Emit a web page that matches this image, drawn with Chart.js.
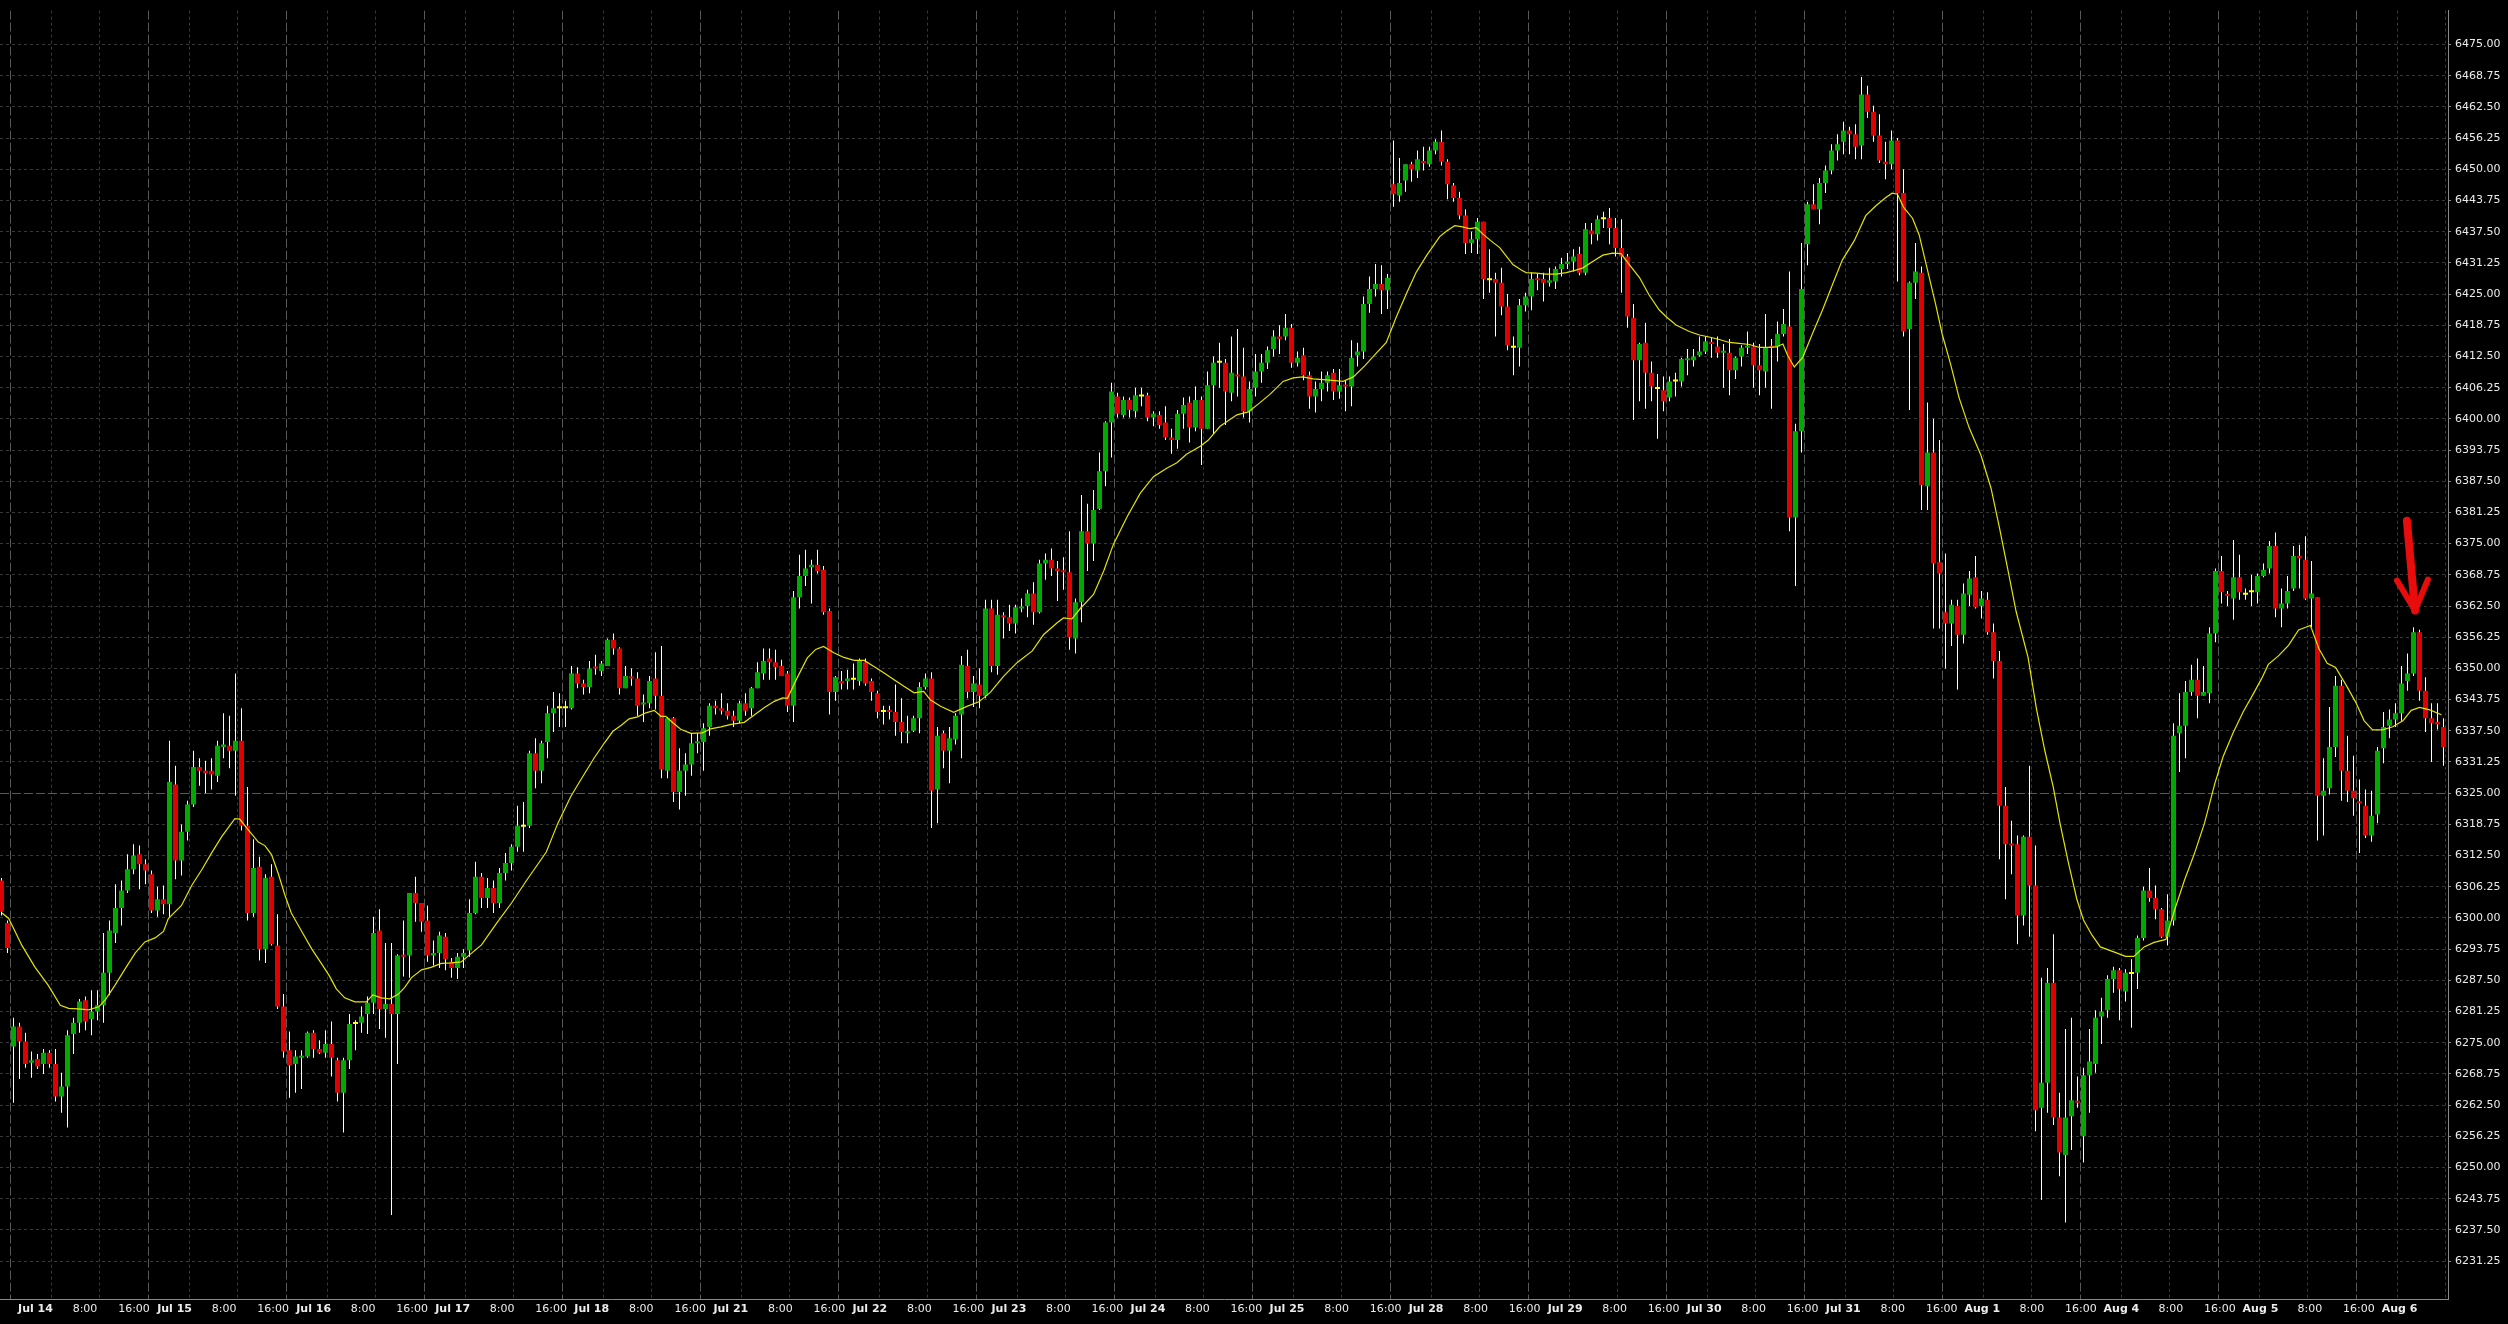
<!DOCTYPE html>
<html>
<head>
<meta charset="utf-8">
<script src="https://cdn.jsdelivr.net/npm/chart.js@4.4.1/dist/chart.umd.min.js"></script>
<style>
html,body{margin:0;padding:0;background:#000;overflow:hidden}
canvas{display:block}
</style>
</head>
<body>
<canvas id="c" width="2508" height="1324"></canvas>
<script>
// ---------- DATA (hourly bars; index 0 = last bar of Jul 11, then 23 bars per session) ----------
const dayNames = ['Jul 14','Jul 15','Jul 16','Jul 17','Jul 18','Jul 21','Jul 22','Jul 23','Jul 24','Jul 25',
                  'Jul 28','Jul 29','Jul 30','Jul 31','Aug 1','Aug 4','Aug 5','Aug 6'];
const hourNames = ['8:00','16:00'];

const opens = [
6307.5, 6299,
6274.25,6278.25,6275.25,6271,6271.75,6270.75,6273,6270.75,6264.25,6266.25,6276.75,6279,6283.5,6279.75,6281.25,6282.5,6289,6297,6302,6305.5,6309.75,6312.75,6310.75,
6308.75,6301.5,6303.75,6302.75,6326.75,6311.5,6317.25,6322.75,6330.25,6329.5,6329.5,6328.5,6334.25,6334.5,6333.5,6335.5,6318.5,6301,6310.25,6293.75,6308.25,6294.5,6282.25,
6273.5,6270.75,6272,6272.25,6277,6273.75,6273,6274.75,6271.5,6265,6271.5,6278.75,6279,6280.75,6283,6297.5,6281.75,6282.75,6280.75,6292.5,6292.5,6305,6303,
6299.5,6292.5,6293,6296.25,6291.25,6290,6292.25,6293.5,6301,6308.25,6304,6306,6303,6309,6311,6314.25,6318.25,6318.5,6333,6329.5,6335.25,6341,6342,
6342,6342,6349,6347,6346.25,6350.25,6349.5,6350.5,6355.75,6354,6346,6348.25,6348,6342.75,6343,6348,6344.5,6329.5,6340,6325.25,6329.5,6330.75,6335,
6335.25,6338.25,6342.5,6342,6341.5,6340.5,6339.5,6343,6342,6346,6349,6352,6351.25,6350.5,6349,6342.5,6364.25,6368.5,6370.25,6370.75,6369.75,6361.5,6345.25,
6347.5,6347.5,6347.75,6347.5,6351.25,6347.5,6345,6341.25,6341.5,6341.25,6339.25,6337,6337.5,6340,6346.25,6348,6325.75,6337,6333.5,6335.75,6340.75,6350.5,6345.25,
6346.75,6344.5,6362,6350.5,6360.5,6360.25,6359,6362,6362.5,6365,6361.25,6371,6371.75,6370,6369.5,6369.25,6356,6363.25,6377.5,6375,6382,6389.5,6399.25,
6404.5,6400.75,6403.75,6401.5,6404.5,6404.75,6400.25,6400.75,6399.25,6396.25,6395.75,6401,6403.25,6398.25,6403.75,6398,6406.75,6411.25,6411.25,6405.25,6408.75,6408.5,6401.5,
6406.25,6409.5,6411.25,6414,6416.5,6416.5,6418.25,6411.25,6412.75,6408.75,6404.5,6406,6407.25,6409.25,6405.5,6406.75,6406.5,6412.75,6413.5,6423,6426,6427,6425.75,
6447,6444.75,6447.75,6451,6449.75,6451.5,6451,6453.75,6455.5,6451.5,6446.75,6444.25,6440.75,6435.25,6436,6439.5,6427.75,6428,6427.25,6422.5,6414.25,6414.25,6422.75,
6424.5,6428,6428,6427.25,6427.5,6430,6431,6431.5,6433,6429.25,6437.75,6437,6440,6440.25,6438.25,6434.25,6432.5,6420.25,6411.75,6415.25,6409.25,6406,6405.75,
6404.25,6407.5,6407.5,6411.75,6411.75,6412.75,6413.5,6415.25,6414.5,6413.25,6413.25,6409.75,6412.5,6414.25,6414.5,6410.75,6409.5,6414.5,6414.5,6417,6418.5,6380.25,6397.5,
6435,6443,6442,6447.25,6449.75,6453.75,6455.5,6457.75,6457,6454.75,6465,6461.5,6456.75,6451.5,6451,6455.75,6445.25,6418,6427.25,6429.25,6386.5,6393.25,6371.25,
6361.25,6359,6362.5,6356.75,6364.75,6368.25,6362.5,6363.75,6357.25,6351.5,6322.5,6314.75,6314.75,6300.5,6316.25,6306.5,6262,6267,6287,6260,6252.5,6260.25,6263.25,
6256.25,6268.5,6270.75,6280.25,6281.5,6287.75,6289.5,6285.25,6288.75,6289,6296,6305.5,6304,6301.75,6296.25,6299.5,6337,6338.5,6345.25,6347.75,6344.5,6345,6357,
6369.5,6364.75,6364,6368.25,6364.75,6365.25,6365.25,6368.5,6370,6374.5,6362,6363,6366,6372.5,6371.75,6364,6364.25,6324.5,6326,6334.25,6346.5,6329.5,6325.5,
6323.25,6322.5,6316.5,6320.75,6334,6338.5,6339.75,6341,6347.5,6349,6357.25,6345.5,6340,6339.25,6338.25
];
const highs = [
6308, 6299.5,
6280,6279,6277,6273.25,6272.75,6273.75,6273.5,6273.75,6269,6277.5,6280,6283.75,6284.25,6285.5,6285.5,6297,6299.5,6306.75,6307.5,6312.75,6314.75,6314.5,6311.75,
6309.5,6306.25,6306.5,6335.5,6330.5,6318.75,6323.5,6333.5,6332,6331.5,6332,6335.5,6341,6340.5,6349,6342,6326.25,6315.75,6312.25,6308.75,6310.75,6300.75,6284.75,
6277.25,6273.5,6273.5,6277.25,6277.5,6275.5,6277.5,6279.25,6272,6272,6280.75,6279.5,6282.25,6284.25,6300.25,6301.75,6295,6295,6292.75,6299.5,6305,6308.25,6303,
6302.5,6295.5,6297.25,6297,6292,6293,6293.75,6303.75,6311.25,6309,6308,6307.5,6310,6313,6314.75,6322.5,6323.25,6333.5,6336,6335.5,6342.5,6345.25,6345,
6343.5,6350.5,6350.25,6347.75,6351.5,6352.75,6351.5,6356,6357,6354.25,6350.5,6350,6349.25,6344.75,6348.5,6353.25,6354.5,6340.25,6340.25,6334,6333,6337,6337,
6339,6343,6343.5,6345,6343,6341.5,6343.5,6345,6346.25,6351.25,6354,6354,6353.75,6351.75,6349.5,6365.5,6372.75,6373.75,6371.75,6373.75,6370.5,6362,6348.5,
6349.5,6349.75,6351,6352,6352,6348,6345.5,6342.5,6342.5,6346.75,6344,6340.5,6340.5,6347.25,6349,6349.25,6338.25,6337.5,6338.25,6341,6352.5,6353.75,6348.5,
6350,6363.75,6363.75,6363.75,6361.25,6362.75,6362.75,6364,6365.75,6367.25,6371.75,6373,6374,6371.5,6372.25,6377.5,6364,6384.75,6383,6385.75,6393.25,6399.5,6407.25,
6405.25,6404.5,6404.25,6406.25,6406.25,6405.25,6401.5,6401.5,6402.5,6398,6401.75,6404.25,6404.5,6406.5,6404.5,6409.5,6412.5,6415.25,6412,6416.5,6418,6414.25,6407.5,
6413,6413,6414.5,6417.75,6418.75,6421,6419,6413.5,6414.25,6409.5,6407.5,6409.5,6409.5,6410,6410,6407.75,6415.75,6415.25,6424.5,6428.5,6431,6430.75,6429,
6455.75,6452.25,6451,6451.5,6453.75,6454.5,6454.5,6456,6457.75,6452,6447.25,6445.5,6442,6437.5,6440.25,6439.5,6434,6429.25,6430.25,6425,6416.5,6424,6425.25,
6429.25,6429,6429.25,6430.25,6430.5,6432.25,6433.25,6434,6434.5,6439.25,6439.25,6440.75,6441.5,6442.25,6440.25,6440,6433,6423,6415.25,6419.25,6411.5,6409,6408.5,
6408.5,6409.25,6412.25,6414,6414,6416.5,6416.5,6416.25,6416.5,6415,6416,6412.5,6414.75,6417.5,6415.25,6415,6421,6416,6419.5,6422,6429.5,6399,6435.25,
6443.5,6447,6448.25,6450.75,6455,6457,6459.5,6458.5,6459,6468.5,6466.75,6462.75,6461,6455.5,6457.75,6456.25,6450,6427.5,6435.25,6430.5,6403.25,6400,6395.75,
6373,6363.75,6363.75,6367,6369.5,6372.5,6365.5,6365.25,6359,6353.5,6326.25,6319.5,6316.5,6316.5,6330.5,6314.5,6288,6290,6296.75,6265,6277.75,6280,6268.25,
6270,6277.75,6281.5,6284,6288.5,6290.25,6290,6289.75,6291.75,6296.5,6306.25,6310,6306.5,6302,6304.75,6339,6345,6347.5,6350.75,6352,6350.5,6358.25,6370,
6372.5,6365.5,6375.75,6372.75,6366,6368.75,6369,6371,6375.5,6377.25,6366,6368.5,6374.5,6374.75,6376.5,6371.5,6364.25,6332,6342.25,6348.5,6347.75,6336.5,6332.5,
6327.75,6325.75,6325.5,6334.25,6341.25,6341.75,6343,6350.5,6353,6358.25,6357.75,6348.25,6343,6343,6340
];
const lows = [
6300.5, 6293,
6263,6267.75,6270,6268,6269.75,6268.75,6270,6263.25,6261,6258,6272.75,6277,6277.5,6276.5,6279.5,6279,6284.5,6295,6298.5,6305,6308.75,6305.75,6306.75,
6301,6300.25,6300.75,6300.25,6307.75,6308.5,6315.5,6322.25,6326.5,6325,6325.75,6327.25,6332,6330,6324.5,6317.5,6299.5,6300.25,6291.5,6291,6294.5,6281.75,6272,
6264,6265,6265.75,6272,6272,6272.75,6272,6268.25,6263.25,6257,6269.75,6273.5,6277,6276.75,6280.75,6277.75,6276,6240.5,6270.75,6288.25,6288,6299.25,6297.25,
6291.25,6290.5,6290,6289.5,6288,6287.75,6290,6292.25,6300.75,6302,6302,6301,6302,6307.5,6309.5,6313.25,6313.25,6318,6326,6327,6332,6337.25,6338.25,
6338.25,6341.75,6346,6344.75,6345,6348.75,6348.5,6350.5,6352.75,6344.75,6346,6346.5,6340.5,6339.25,6342,6341.75,6328,6328,6323.25,6321.75,6324.5,6328.5,6333,
6329.5,6336.5,6340.75,6340.75,6339.75,6338.25,6339,6340.5,6340.5,6346,6347.75,6347.75,6347.75,6348.5,6341.25,6339.25,6362,6366.5,6363,6369,6360.75,6340.75,6343.5,
6345.75,6345.75,6345.75,6346.5,6346.5,6343.5,6340,6338.75,6339.75,6336.5,6335,6335,6337.25,6337,6345.75,6318,6319,6330,6327,6334.75,6332,6344,6342.25,
6342,6344,6349.25,6348.75,6356,6357.5,6357,6361.25,6360.25,6358.75,6361,6367.75,6368.5,6363.5,6365.75,6353.75,6353,6359.25,6369.5,6371.5,6381.75,6386.5,6392.25,
6400.25,6400.25,6400.25,6400.25,6402.5,6399.5,6398.5,6398,6395.75,6393,6394,6398,6395.25,6397.5,6390.75,6398,6397,6406.25,6398.75,6403.5,6404.5,6400.25,6399.25,
6404.5,6407.25,6410,6412.5,6413,6415.75,6410.25,6410.5,6407.75,6402,6401.25,6403.5,6405.5,6403.75,6404,6401.5,6402.5,6410.5,6412,6421.25,6424.5,6421,6422,
6442.5,6443.5,6445.5,6447.5,6448.25,6449.75,6450.5,6453,6450.75,6444,6443.5,6440,6433,6433.25,6433,6424,6425.25,6416.5,6420.75,6413.75,6408.75,6410.5,6421.5,
6421.75,6425.75,6423.5,6426.5,6426,6428.5,6430,6429.5,6428.75,6428.75,6435,6435.75,6438.25,6435,6432.5,6425.25,6418.25,6399.75,6403.5,6402,6403.5,6396,6401.5,
6403.5,6404.5,6406.5,6408.75,6410.5,6412.5,6413,6412.25,6412.25,6406.25,6404.75,6408,6410.5,6413,6406.25,6404.75,6406.25,6402,6411.5,6416.5,6377.5,6366.5,6393.25,
6430.75,6442,6439,6445.25,6449,6451.75,6453,6453,6452,6452,6460.25,6455.5,6451.25,6448,6450,6427.5,6416.5,6401.75,6424,6381.75,6381.75,6358,6358,
6350,6354.5,6345.75,6355,6362.5,6362,6360,6356.75,6348,6311.75,6303.75,6308.75,6294.75,6298.5,6296.25,6257.25,6243.5,6261,6258.5,6248.25,6239,6253.5,6262,
6251,6261,6269,6274.75,6280,6285,6279.5,6283.25,6278,6285.75,6295.5,6303.25,6299.75,6296,6294.5,6298.5,6329.25,6332,6344.5,6340,6344.5,6343,6355.25,
6363,6362.5,6359.75,6363.75,6363.75,6362.5,6363,6368.25,6369,6360.25,6358.25,6362,6365.5,6366,6363.75,6358.25,6315.5,6316.5,6324.75,6332.25,6323.5,6323.25,6320.5,
6313,6316,6315.25,6319,6331,6336,6338.25,6339.5,6345.5,6348.5,6343.5,6337.25,6331.25,6337.75,6330.5
];
const closes = [
6301.25, 6294,
6278.25,6275.25,6270.75,6271.5,6270.25,6273,6270.75,6264.25,6266.25,6276.5,6279,6283.25,6279.25,6281.25,6282.5,6289,6297.5,6302,6305.5,6309.75,6312.5,6310.75,6309.5,
6301.5,6303.75,6302.75,6327.25,6311.5,6317.25,6322.75,6330.25,6329.5,6329,6328.75,6334.5,6334.75,6333.5,6335.5,6318.5,6301,6310,6293.75,6308,6294.75,6282.25,6273.25,
6270.5,6272.25,6272.25,6277,6273.75,6273,6274.75,6272,6265,6271.5,6278.75,6278.75,6280.25,6283,6297,6281.75,6282.75,6280.75,6292.5,6292.25,6305,6303,6299.25,
6292.5,6293,6296.5,6291.75,6290,6292.25,6293,6301,6308.25,6304,6306,6303,6309,6311,6314.25,6318.5,6318.25,6333,6329.5,6335,6341,6342,6342,
6342,6349,6347,6346.25,6350,6350,6351,6355.75,6354,6346,6348.5,6348,6342.5,6343,6347.5,6344.5,6329.75,6340,6325.25,6329.5,6330.75,6335,6335.25,
6338,6342.5,6342,6341.5,6340.5,6339.5,6343,6341.5,6346,6349.25,6351.5,6351.25,6350.25,6348.5,6342.5,6364.25,6368.5,6370,6370.75,6369.5,6361.25,6345.25,6348.25,
6347,6348,6347.75,6351.5,6347,6345.25,6341.25,6341.25,6341.25,6339.25,6337.25,6337.25,6340,6346.25,6348,6325.5,6336.5,6333.5,6336,6340.5,6350.75,6345.25,6347,
6344.5,6362,6350.5,6360.75,6360.25,6359,6362.25,6362.25,6365,6361.25,6371,6371.75,6370,6369.5,6369.25,6356.25,6363.25,6377.5,6375,6381.75,6389.5,6399.25,6405.5,
6401,6403.75,6401.75,6404.75,6404.5,6400.25,6401,6398.75,6396.25,6395.75,6401,6402.75,6398.25,6403.75,6398,6406.75,6411.25,6411.25,6405.5,6409.25,6408.5,6401.5,6406,
6409.5,6411.25,6413.75,6416.5,6416,6418.25,6411.25,6412.25,6408.75,6404.5,6406,6407.25,6408.75,6405.5,6406.75,6406.5,6412.25,6413.5,6423,6426,6427,6425.75,6428.25,
6445,6447.25,6451,6450,6452,6451.25,6453.75,6455.5,6451.5,6447,6444.25,6440.75,6435.25,6436,6439.5,6428,6427.75,6427.25,6422.5,6414.75,6414.25,6422.75,6424.5,
6428,6427.75,6427.25,6427.75,6430,6431,6431.5,6432.5,6429.25,6438,6437,6440,6440,6438.25,6434.25,6432.5,6420.5,6411.75,6415,6409.25,6406.5,6406,6403.5,
6407.5,6407.5,6412,6412,6412.5,6413.5,6415.5,6415,6413.25,6413.5,6409.75,6412.25,6414.25,6414.5,6410.75,6409.75,6414.25,6414.25,6417,6419,6380.25,6397.5,6426,
6443,6442,6447.25,6449.75,6453.75,6455,6457.75,6457,6454.5,6465,6461.5,6456.75,6451.75,6451,6455.75,6445.25,6417.5,6427.25,6429.5,6386.75,6393.25,6371,6369,
6359,6362.75,6356.75,6365,6368,6362.25,6364,6357.25,6351.5,6322.5,6314.75,6314.5,6300.5,6316.25,6306.5,6261.5,6267,6287,6260,6253,6260,6263.5,6263,
6268.5,6271.25,6280,6281.25,6287.75,6289.5,6285.75,6289,6288.75,6296,6305.5,6304,6301.75,6296.25,6299.5,6336.5,6338.5,6345.25,6347.75,6344.5,6345.25,6357,6369.5,
6365.25,6364.5,6368.25,6365.25,6364.75,6365.25,6368.5,6369.75,6374.5,6362,6363,6365.5,6372.5,6372,6364,6365,6324.5,6325.5,6334.25,6346.5,6329.5,6325.5,6324,
6323,6316.5,6320.5,6333.5,6338.25,6339.75,6341,6347,6349,6357.25,6345.5,6340,6339,6338.75,6334.25
];

// moving-average line: bar position -> value
const maBar = [
-0.92,0.2,2.4,4.6,6.8,8.8,10.2,11.8,13.5,15.2,16.3,17.9,19.6,21.3,22.9,24.6,26.0,26.8,29.0,30.7,32.4,34.0,35.7,37.9,38.7,40.1,41.8,42.9,44.0,45.1,46.2,47.3,49.0,50.7,52.3,53.7,54.8,56.2,57.9,59.8,60.9,62.3,63.7,65.1,66.2,67.3,69.0,70.6,72.3,74.0,75.6,76.7,79.0,
81.5,84.0,86.5,
89.8,91.7,93.9,95.6,97.8,99.5,100.9,102.3,103.6,105.0,106.4,107.8,108.9,109.7,110.9,112.2,113.9,115.8,117.2,118.9,120.6,122.8,124.4,126.1,127.8,129.2,130.0,131.6,133.3,134.7,136.0,137.8,139.4,141.1,142.8,144.4,146.1,147.7,149.4,151.1,152.7,153.8,155.5,157.7,
159.9,161.9,163.8,166.0,168.3,170.8,172.7,175.0,176.0,177.4,178.8,181.0,182.7,184.3,186.6,188.8,191.0,193.2,194.9,196.5,198.8,200.1,202.1,204.9,206.8,208.7,210.4,212.6,214.3,215.9,217.6,219.8,222.6,224.3,226.2,228.1,229.8,231.5,233.2,234.8,236.5,
238.7,239.8,241.2,242.3,243.7,244.8,245.9,247.3,248.7,249.8,250.9,252.3,253.1,254.8,256.4,258.1,259.8,261.4,262.5,264.2,265.9,267.5,268.9,270.3,272.0,273.6,275.3,276.4,278.1,280.3,282.0,283.6,285.3,287.0,288.6,290.3,292.0,293.6,294.8,295.9,296.7,297.8,299.2,300.8,302.5,304.2,305.8,307.8,309.7,311.4,313.0,314.1,315.0,316.0,317.5,318.6,
321.35,322.46,323.86,325.27,326.95,328.91,330.59,331.99,333.39,334.79,336.76,338.16,339.56,340.96,342.08,343.48,344.88,346.0,347.4,348.8,351.05,353.0,354.4,356.1,357.77,359.73,361.13,362.81,364.49,366.17,367.86,369.26,370.94,372.62,374.3,375.7,376.81,378.49,380.17,381.85,383.82,385.22,386.62,388.02,389.7,391.38,392.78,394.18,395.86,397.54,399.22,400.62,402.02,403.7,405.66
];
const maValue = [
6301.0,6299.9,6294.5,6290.1,6286.5,6282.5,6281.9,6281.8,6281.6,6282.2,6283.6,6286.5,6289.8,6293.0,6295.2,6296.0,6297.3,6299.9,6302.5,6306.5,6309.7,6313.0,6316.3,6319.9,6319.8,6317.7,6315.2,6314.5,6312.7,6309.0,6304.7,6301.0,6297.4,6293.8,6290.9,6288.3,6285.8,6284.0,6283.2,6283.2,6284.6,6284.0,6283.8,6284.7,6286.1,6288.0,6289.6,6290.1,6290.9,6291.0,6291.2,6292.3,6294.6,
6298.9,6303.0,6307.5,
6313.2,6318.9,6324.4,6327.8,6332.1,6335.1,6337.4,6338.6,6339.9,6340.3,6341.1,6341.6,6340.4,6340.4,6339.1,6337.8,6337.0,6337.1,6337.9,6338.3,6338.8,6339.2,6340.6,6342.1,6343.4,6344.1,6344.0,6348.1,6352.1,6353.8,6354.4,6353.1,6352.2,6351.6,6351.6,6350.4,6349.1,6347.8,6346.4,6345.1,6345.4,6343.7,6342.4,6341.2,
6342.4,6343.3,6345.2,6348.4,6351.2,6353.5,6356.8,6359.2,6360.1,6359.9,6362.0,6364.8,6369.5,6374.8,6380.4,6385.1,6388.4,6390.1,6391.2,6392.9,6394.5,6395.7,6398.5,6400.8,6401.4,6403.2,6404.9,6407.5,6408.2,6408.4,6408.0,6407.8,6407.5,6408.4,6410.6,6413.1,6415.3,6420.5,6425.2,6429.4,6432.7,
6436.5,6437.6,6438.7,6438.5,6438.1,6438.3,6437.0,6435.6,6434.3,6432.6,6430.9,6429.8,6429.3,6429.2,6429.0,6429.0,6429.3,6429.8,6430.2,6431.5,6432.8,6433.2,6433.1,6430.9,6428.3,6424.8,6421.8,6420.5,6418.8,6417.5,6416.8,6416.4,6415.9,6415.3,6415.1,6414.9,6414.3,6414.3,6414.4,6415.0,6412.7,6410.4,6412.3,6417.0,6421.8,6427.0,6431.8,6435.7,6440.7,6442.7,6444.3,6445.2,6445.0,6442.4,6440.2,6436.9,
6423.0,6416.9,6410.9,6404.2,6398.2,6392.7,6386.1,6378.2,6369.8,6361.3,6352.2,6341.9,6333.5,6326.2,6319.0,6311.1,6303.8,6299.6,6296.6,6294.2,6293.2,6292.3,6292.3,6294.2,6295.1,6295.7,6301.4,6307.5,6312.9,6319.0,6326.8,6332.3,6337.1,6341.3,6344.9,6348.0,6350.8,6352.5,6354.6,6357.7,6358.6,6354.0,6351.0,6350.2,6346.8,6343.2,6339.5,6337.7,6337.7,6338.3,6339.5,6341.6,6342.2,6341.7,6340.7
];

const yTickValues = [6231.25,6237.5,6243.75,6250,6256.25,6262.5,6268.75,6275,6281.25,6287.5,6293.75,6300,6306.25,6312.5,
  6318.75,6325,6331.25,6337.5,6343.75,6350,6356.25,6362.5,6368.75,6375,6381.25,6387.5,6393.75,6400,6406.25,6412.5,6418.75,
  6425,6431.25,6437.5,6443.75,6450,6456.25,6462.5,6468.75,6475];
const markedLevels = [6325];

// annotation arrow (bar position, price)
const arrowTail = [399.9, 6379.6], arrowTip = [401.25, 6361.6];
const arrowWingL = [398.25, 6367.6], arrowWingR = [403.4, 6367.8];

// ---------- LAYOUT / STYLE ----------
const FONT = "'DejaVu Sans', sans-serif";
const firstBar = -1, barsPerDay = 23;
const X_MIN = -1.25, X_MAX = 406.75;
const Y_MIN = 6223.66, Y_MAX = 6481.79;
const LABEL_DAYS = 17.604;
const UP = '#00aa00', DOWN = '#e00000', DOJI = '#ffff00', WICK = '#ffffff', MA_COLOR = '#e4e400';
const GRID = '#383838', SEP = '#585858', AXIS = '#8a8a8a', TEXT = '#ececec', ARROW = '#e80c0c';

const n = Math.min(opens.length, highs.length, lows.length, closes.length);
const wickData = [], bodyData = [], bodyColors = [];
for (let i = 0; i < n; i++) {
  const k = firstBar + i;
  wickData.push({x: k, y: [lows[i], highs[i]]});
  bodyData.push({x: k, y: [opens[i], closes[i]]});
  bodyColors.push(closes[i] > opens[i] ? UP : (closes[i] < opens[i] ? DOWN : DOJI));
}
const maData = [];
for (let i = 0; i < Math.min(maBar.length, maValue.length); i++) maData.push({x: maBar[i], y: maValue[i]});

const dayStarts = dayNames.map((_, d) => 1 + d * barsPerDay);
const dayLineTicks = dayStarts.map(k => k - 0.48);
const hourLineTicks = [];
dayStarts.forEach(k => { [k + 6.41, k + 14.33].forEach(v => { if (v < X_MAX) hourLineTicks.push(v); }); });

const xLabelPos = [], xLabelText = [], xLabelBold = [];
dayNames.forEach((name, d) => {
  xLabelPos.push(d + 0.2553); xLabelText.push(name); xLabelBold.push(true);
  [0.6112, 0.9636].forEach((off, j) => {
    if (d + off < LABEL_DAYS) { xLabelPos.push(d + off); xLabelText.push(hourNames[j]); xLabelBold.push(false); }
  });
});

const arrowPlugin = {
  id: 'arrowNote',
  afterDatasetsDraw(chart) {
    const {ctx} = chart, xs = chart.scales.x, ys = chart.scales.y;
    const P = p => [xs.getPixelForValue(p[0]), ys.getPixelForValue(p[1])];
    const t = P(arrowTail), h = P(arrowTip), l = P(arrowWingL), r = P(arrowWingR);
    ctx.save();
    ctx.strokeStyle = ARROW; ctx.lineCap = 'round'; ctx.lineJoin = 'round';
    ctx.lineWidth = 8;
    ctx.beginPath(); ctx.moveTo(t[0], t[1]); ctx.lineTo(h[0], h[1]); ctx.stroke();
    ctx.lineWidth = 6;
    ctx.beginPath(); ctx.moveTo(l[0], l[1]); ctx.lineTo(h[0], h[1]); ctx.lineTo(r[0], r[1]); ctx.stroke();
    ctx.restore();
  }
};

const tickFont = {family: FONT, size: 11};

new Chart(document.getElementById('c'), {
  type: 'bar',
  data: {
    datasets: [
      {type: 'line', data: maData, xAxisID: 'x', yAxisID: 'y', borderColor: MA_COLOR, borderWidth: 1.2,
       pointRadius: 0, tension: 0, fill: false, order: 0},
      {type: 'bar', data: bodyData, xAxisID: 'x', yAxisID: 'y', backgroundColor: bodyColors, barThickness: 5,
       minBarLength: 2, grouped: false, borderWidth: 0, inflateAmount: 0, order: 1},
      {type: 'bar', data: wickData, xAxisID: 'x', yAxisID: 'y', backgroundColor: WICK, barThickness: 1,
       grouped: false, borderWidth: 0, inflateAmount: 0, order: 2}
    ]
  },
  options: {
    responsive: false, animation: false, events: [], devicePixelRatio: 1,
    layout: {padding: {top: 6, left: 0, right: 0, bottom: 0}},
    plugins: {legend: {display: false}, tooltip: {enabled: false}},
    scales: {
      x: {type: 'linear', axis: 'x', position: 'bottom', min: X_MIN, max: X_MAX, offset: false, bounds: 'data',
          afterBuildTicks: s => { s.ticks = dayLineTicks.map(v => ({value: v})); },
          afterFit: s => { s.height = 0; },
          ticks: {display: false},
          grid: {display: true, offset: false, color: SEP, lineWidth: 1, drawTicks: false, drawOnChartArea: true},
          border: {display: false, dash: [9, 3]}},
      x3: {type: 'linear', axis: 'x', position: 'bottom', min: X_MIN, max: X_MAX, offset: false, bounds: 'data',
          afterBuildTicks: s => { s.ticks = hourLineTicks.map(v => ({value: v})); },
          afterFit: s => { s.height = 0; },
          ticks: {display: false},
          grid: {display: true, offset: false, color: GRID, lineWidth: 1, drawTicks: false},
          border: {display: false, dash: [3, 3]}},
      xl: {type: 'linear', axis: 'x', position: 'bottom', min: 0, max: LABEL_DAYS, offset: false, bounds: 'data',
          afterBuildTicks: s => { s.ticks = xLabelPos.map(v => ({value: v})); },
          afterFit: s => { s.height = 25; },
          grid: {display: false, offset: false, drawTicks: false},
          border: {display: true, color: AXIS, width: 1},
          ticks: {autoSkip: false, maxRotation: 0, minRotation: 0, padding: 4, color: TEXT,
                  callback: (v, i) => xLabelText[i],
                  font: c => ({family: FONT, size: 11, weight: xLabelBold[c.index] ? 'bold' : 'normal'})}},
      y: {type: 'linear', axis: 'y', position: 'right', min: Y_MIN, max: Y_MAX, beginAtZero: false, bounds: 'data',
          afterBuildTicks: s => { s.ticks = yTickValues.map(v => ({value: v})); },
          afterFit: s => { s.width = 60; },
          grid: {color: c => (c.tick && markedLevels.includes(c.tick.value)) ? 'rgba(0,0,0,0)' : GRID,
                 lineWidth: 1, drawTicks: true, tickLength: 3, tickColor: AXIS, tickWidth: 1},
          border: {display: true, color: AXIS, width: 1, dash: [3, 3]},
          ticks: {autoSkip: false, padding: 4, color: TEXT, font: tickFont, callback: v => Number(v).toFixed(2)}},
      y2: {type: 'linear', axis: 'y', position: 'right', min: Y_MIN, max: Y_MAX, beginAtZero: false, bounds: 'data',
          afterBuildTicks: s => { s.ticks = markedLevels.map(v => ({value: v})); },
          afterFit: s => { s.width = 0; },
          ticks: {display: false},
          grid: {color: SEP, lineWidth: 1, drawTicks: false},
          border: {display: false, dash: [9, 3]}}
    }
  },
  plugins: [arrowPlugin]
});
</script>
</body>
</html>
